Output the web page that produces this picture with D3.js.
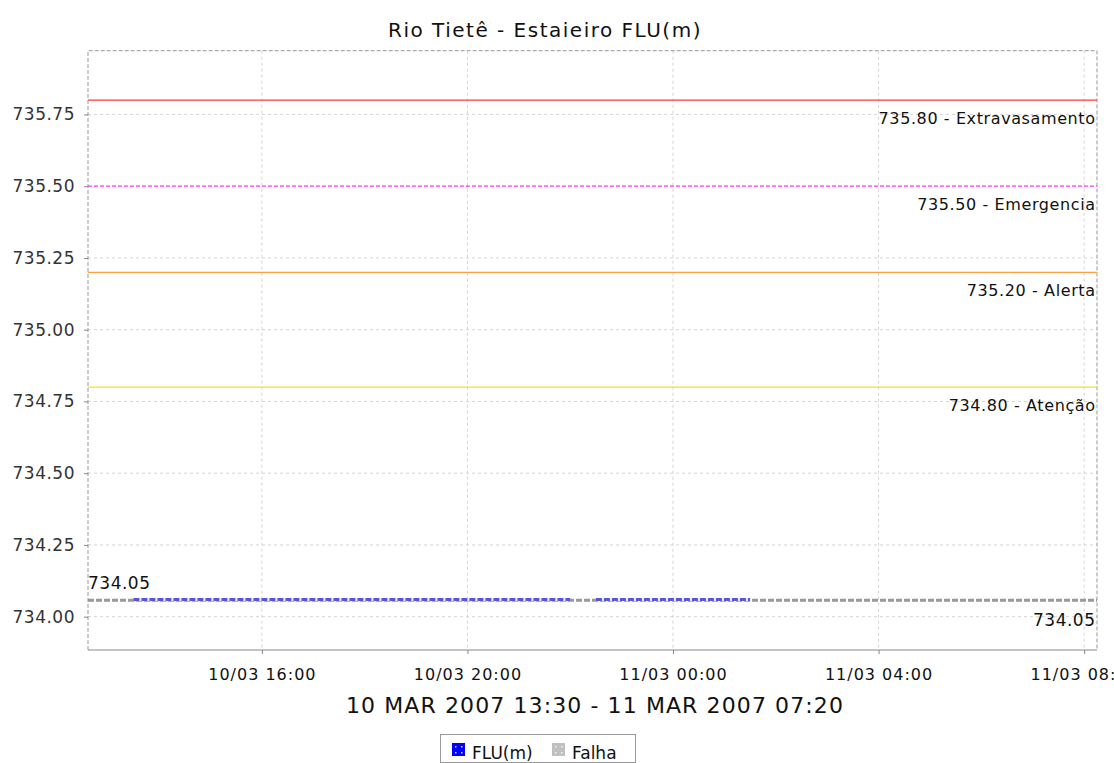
<!DOCTYPE html>
<html><head><meta charset="utf-8">
<script src="https://cdn.jsdelivr.net/npm/d3@7"></script>
<style>
html,body{margin:0;padding:0;background:#fff;}
svg{display:block;font-family:"DejaVu Sans",sans-serif;}
</style></head>
<body>
<script>
// ---- data ----
const title = "Rio Tietê - Estaieiro FLU(m)";
const xLabel = "10 MAR 2007 13:30 - 11 MAR 2007 07:20";
const xDomain = ["2007-03-10 12:37", "2007-03-11 08:15"];
const yDomain = [733.884, 735.972];
const yTicks = [734.00, 734.25, 734.50, 734.75, 735.00, 735.25, 735.50, 735.75];
const xTicks = ["2007-03-10 16:00", "2007-03-10 20:00", "2007-03-11 00:00", "2007-03-11 04:00", "2007-03-11 08:00"];

const thresholdValues = [735.80, 735.50, 735.20, 734.80];
const thresholdLabels = ["735.80 - Extravasamento", "735.50 - Emergencia", "735.20 - Alerta", "734.80 - Atenção"];
const thresholdColors = ["#ff3a3a", "#ff40ff", "#ffa040", "#f2e030"];
const thresholdDashed = [false, true, false, false];

// FLU(m) series (null = gap)
const fluTimes  = ["2007-03-10 13:30", "2007-03-10 22:00", "2007-03-10 22:15", "2007-03-10 22:30", "2007-03-11 01:30"];
const fluValues = [734.06, 734.06, null, 734.06, 734.06];
// Falha series
const falhaTimes  = ["2007-03-10 12:37", "2007-03-11 08:15"];
const falhaValues = [734.057, 734.057];
const firstLabel = "734.05";
const lastLabel = "734.05";

const legendNames = ["FLU(m)", "Falha"];
const legendColors = ["#0000ff", "#c0c0c0"];

// ---- layout ----
const W = 1114, H = 763;
const m = {left: 88, right: 1097, top: 50.7, bottom: 650};
const parse = d3.timeParse("%Y-%m-%d %H:%M");

const svg = d3.select("body").append("svg").attr("width", W).attr("height", H);

const x = d3.scaleTime().domain(xDomain.map(parse)).range([m.left, m.right]);
const y = d3.scaleLinear().domain(yDomain).range([m.bottom, m.top]);

// grid
const grid = svg.append("g");
grid.selectAll("line.gy").data(yTicks).join("line")
  .attr("x1", m.left).attr("x2", m.right)
  .attr("y1", d => y(d)).attr("y2", d => y(d))
  .attr("stroke", "#d4d4d4").attr("stroke-dasharray", "3,3").attr("stroke-width", 1);
grid.selectAll("line.gx").data(xTicks.map(parse)).join("line")
  .attr("x1", d => x(d)).attr("x2", d => x(d))
  .attr("y1", m.top).attr("y2", m.bottom)
  .attr("stroke", "#d4d4d4").attr("stroke-dasharray", "3,3").attr("stroke-width", 1);

// border
svg.append("path")
  .attr("d", `M${m.left},${m.bottom}V${m.top}H${m.right}V${m.bottom}`)
  .attr("fill", "none").attr("stroke", "#999").attr("stroke-dasharray", "4,2");

// thresholds
thresholdValues.forEach((v, i) => {
  svg.append("line")
    .attr("x1", m.left).attr("x2", m.right)
    .attr("y1", y(v)).attr("y2", y(v))
    .attr("stroke", thresholdColors[i]).attr("stroke-width", 1.3)
    .attr("stroke-dasharray", thresholdDashed[i] ? "4,2" : null);
  svg.append("text")
    .attr("x", 1095.6).attr("y", y(v) + 24)
    .attr("text-anchor", "end").attr("font-size", 16).attr("letter-spacing", "0.6px").attr("fill", "#111")
    .text(thresholdLabels[i]);
});

// series lines
const line = d3.line().defined(d => d[1] != null).x(d => x(d[0])).y(d => y(d[1]));
const falhaData = falhaTimes.map((t, i) => [parse(t), falhaValues[i]]);
svg.append("path").datum(falhaData).attr("d", line)
  .attr("fill", "none").attr("stroke", "#999").attr("stroke-width", 3).attr("stroke-dasharray", "6,2");

const fluData = fluTimes.map((t, i) => [parse(t), fluValues[i]]);
svg.append("path").datum(fluData).attr("d", line)
  .attr("fill", "none").attr("stroke", "#eeeefa").attr("stroke-width", 3);
svg.append("path").datum(fluData).attr("d", line)
  .attr("fill", "none").attr("stroke", "#5858d4").attr("stroke-width", 3).attr("stroke-dasharray", "6,2");

// point labels
svg.append("text").attr("x", m.left).attr("y", y(falhaValues[0]) - 11)
  .attr("font-size", 17).attr("letter-spacing", "0.5px").attr("fill", "#111").text(firstLabel);
svg.append("text").attr("x", 1095.5).attr("y", y(falhaValues[0]) + 26)
  .attr("text-anchor", "end").attr("font-size", 17).attr("letter-spacing", "0.5px").attr("fill", "#111").text(lastLabel);

// axes
const yAxis = d3.axisLeft(y).tickValues(yTicks).tickFormat(d3.format(".2f")).tickSize(4).tickPadding(9);
const gy = svg.append("g").attr("transform", `translate(${m.left},0)`).call(yAxis);
gy.select(".domain").remove();
gy.selectAll(".tick line").attr("stroke", "#888");
gy.selectAll(".tick text").attr("font-size", 17).attr("fill", "#333")
  .attr("font-family", "DejaVu Sans").attr("letter-spacing", "0.5px");

const xAxis = d3.axisBottom(x).tickValues(xTicks.map(parse)).tickFormat(d3.timeFormat("%d/%m %H:%M")).tickSize(4);
const gx = svg.append("g").attr("transform", `translate(0,${m.bottom})`).call(xAxis);
gx.select(".domain").attr("stroke", "#888").attr("d", `M${m.left},0H${m.right}`);
gx.selectAll(".tick line").attr("stroke", "#888");
gx.selectAll(".tick text").attr("font-size", 16).attr("fill", "#111").attr("font-family", "DejaVu Sans")
  .attr("letter-spacing", "1px").attr("y", 30).attr("dy", 0);

// title
svg.append("text").attr("x", 545).attr("y", 37).attr("text-anchor", "middle")
  .attr("font-size", 20).attr("letter-spacing", "1.5px").attr("fill", "#111").text(title);
svg.append("text").attr("x", 595).attr("y", 713).attr("text-anchor", "middle")
  .attr("font-size", 22).attr("fill", "#111").attr("letter-spacing", "1.1px").text(xLabel);

// legend
const lg = svg.append("g");
lg.append("rect").attr("x", 440.5).attr("y", 734.5).attr("width", 195).attr("height", 28)
  .attr("fill", "#fff").attr("stroke", "#999");
const legX = [452, 552];
legendNames.forEach((n, i) => {
  const lx = legX[i];
  lg.append("rect").attr("x", lx).attr("y", 743).attr("width", 13).attr("height", 13).attr("fill", legendColors[i]);
  [[3, 3], [9, 3], [3, 9], [9, 9]].forEach(p => {
    lg.append("rect").attr("x", lx + p[0]).attr("y", 743 + p[1]).attr("width", 1.5).attr("height", 1.5)
      .attr("fill", "#fff").attr("opacity", 0.8);
  });
  lg.append("text").attr("x", lx + 20).attr("y", 759).attr("font-size", 17).attr("fill", "#111").text(n);
});
</script>
</body></html>
